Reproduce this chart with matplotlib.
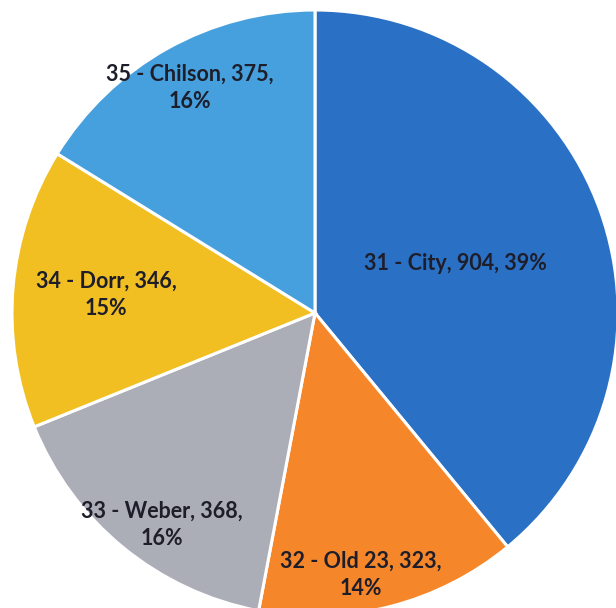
import matplotlib.pyplot as plt

# chart data
names = ["31 - City", "32 - Old 23", "33 - Weber", "34 - Dorr", "35 - Chilson"]
counts = [904, 323, 368, 346, 375]
shares = [39, 14, 16, 15, 16]
colors = ["#2A71C6", "#F5862A", "#ABADB7", "#F1BF22", "#46A0DD"]

# label placement (pixel coords from top left) and line split
label_pos = [(455, 263), (361, 575), (162, 525), (106, 295), (190, 88)]
label_txt = [
    "31 - City, 904, 39%",
    "32 - Old 23, 323,\n14%",
    "33 - Weber, 368,\n16%",
    "34 - Dorr, 346,\n15%",
    "35 - Chilson, 375,\n16%",
]

W, H = 616, 608
fig = plt.figure(figsize=(W / 100, H / 100), dpi=100)
ax = fig.add_axes([0, 0, 1, 1])

ax.pie(counts, colors=colors, startangle=90, counterclock=False,
       center=(315, H - 313), radius=303, frame=True,
       wedgeprops=dict(edgecolor="white", linewidth=2.2))
ax.set_xlim(0, W)
ax.set_ylim(0, H)
ax.set_aspect("equal")
ax.axis("off")

for (x, y), t in zip(label_pos, label_txt):
    ax.text(x, H - y, t, ha="center", va="center", fontsize=15.5,
            fontfamily="Lato", fontweight="bold", color="#1E1E2A",
            linespacing=1.35)

fig.savefig("out.png", dpi=100)
